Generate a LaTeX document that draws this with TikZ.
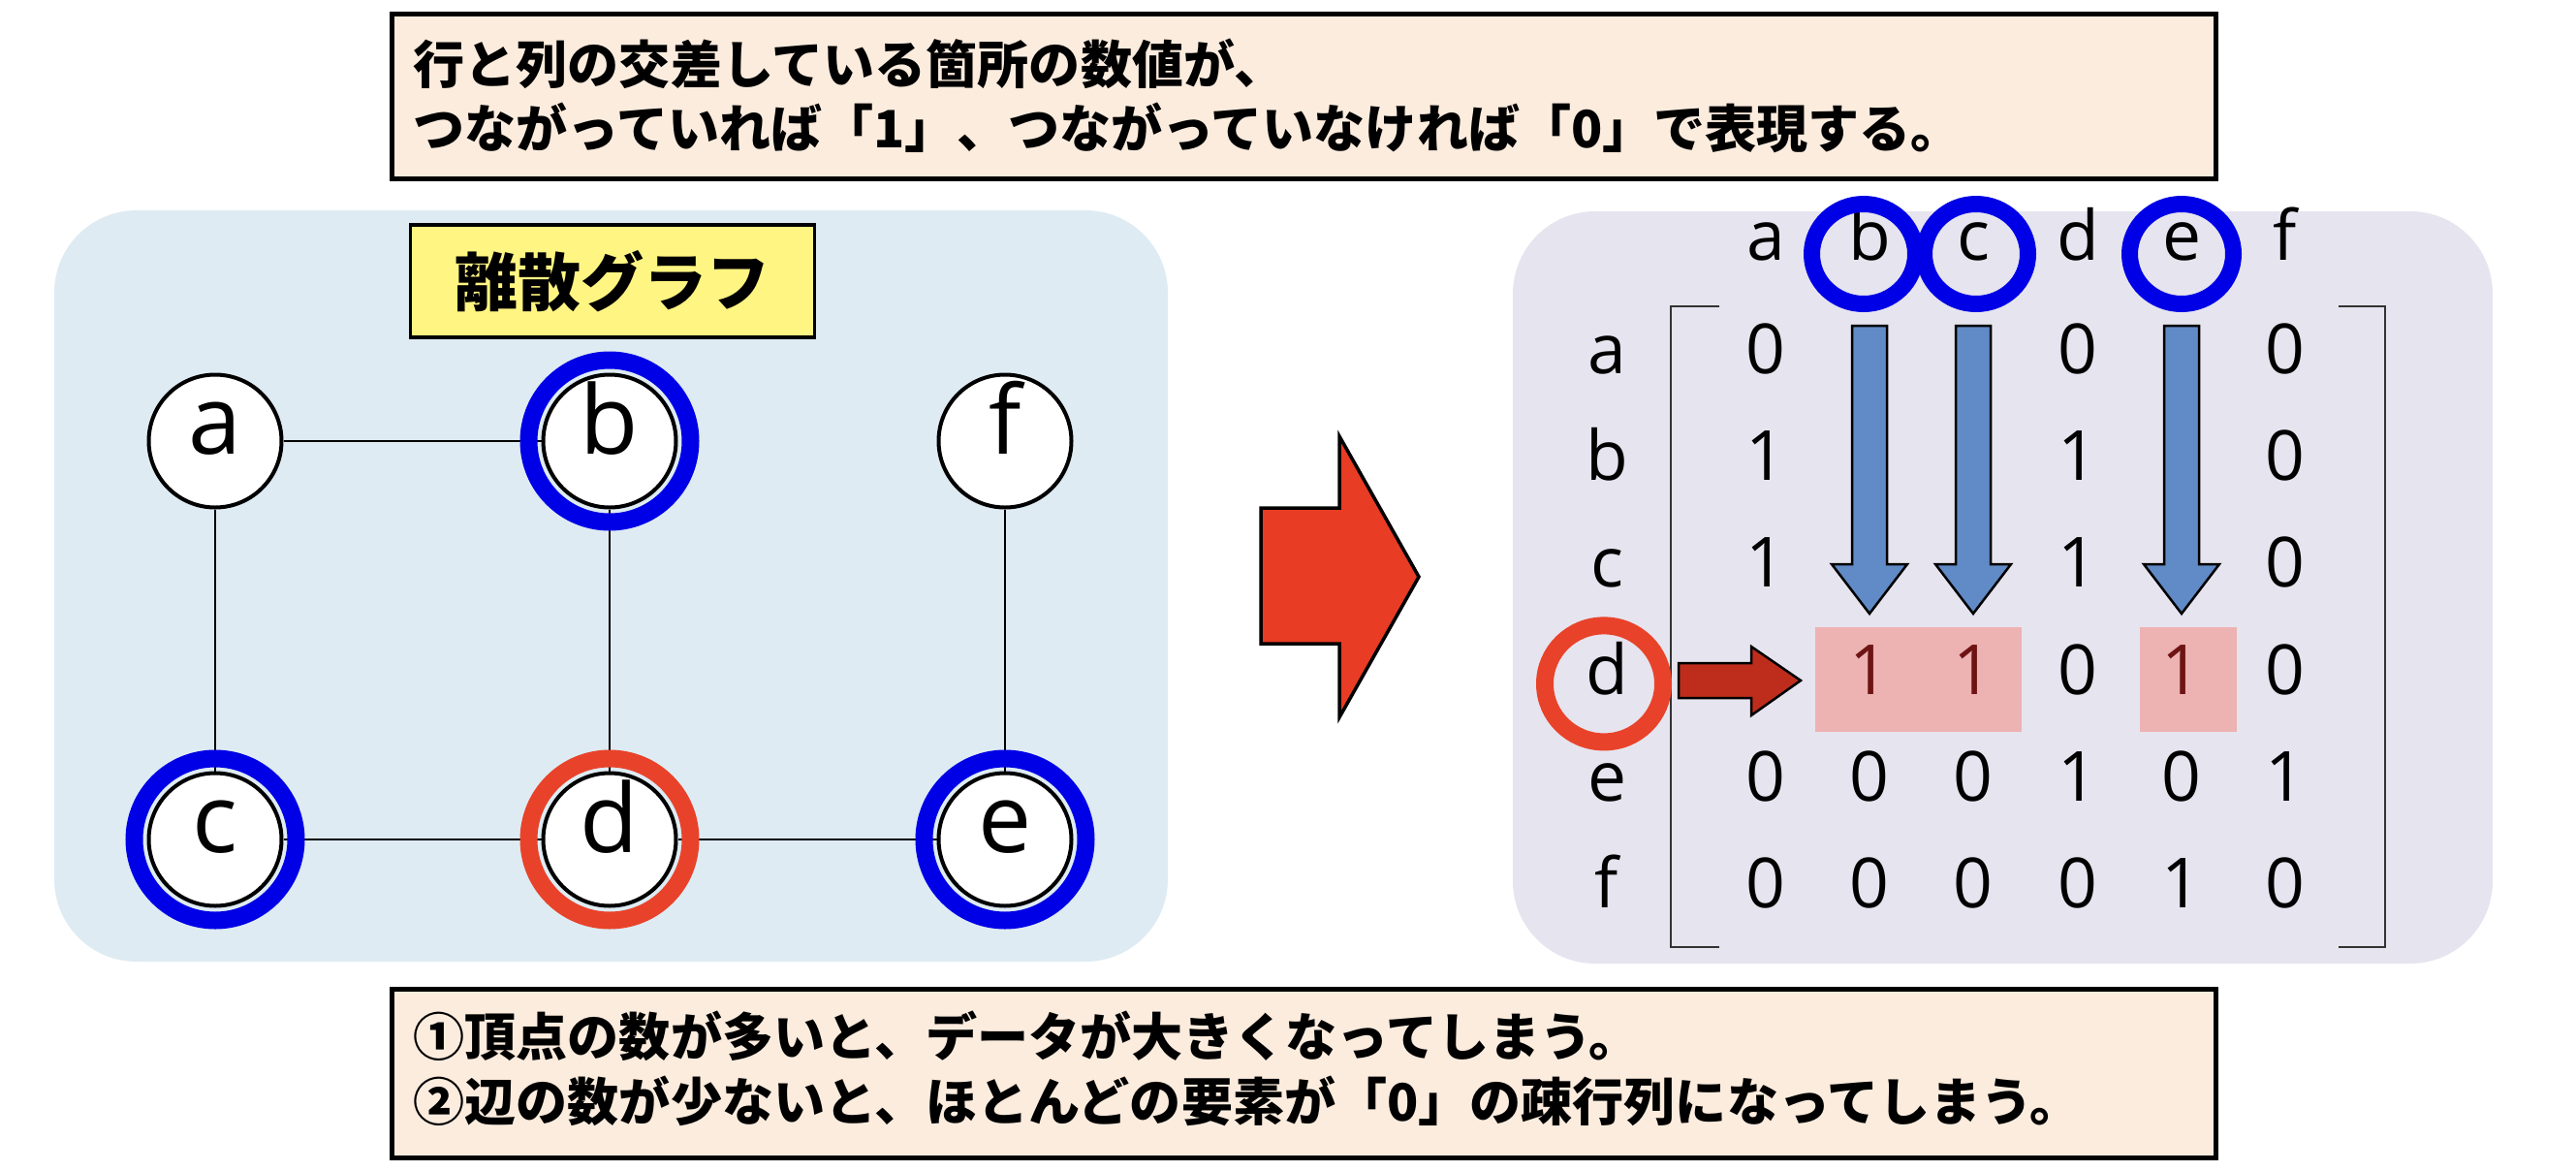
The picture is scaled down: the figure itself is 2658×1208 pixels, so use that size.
\documentclass[tikz,border=0pt]{standalone}
\usepackage{fontspec}
\setmainfont{Open Sans}
\newfontfamily\jpfont{Noto Sans CJK JP}
\usetikzlibrary{calc}

\definecolor{notefill}{RGB}{251,236,222}
\definecolor{graphbg}{RGB}{222,235,243}
\definecolor{matbg}{RGB}{230,228,238}
\definecolor{titlefill}{RGB}{255,245,130}
\definecolor{ringblue}{RGB}{0,0,230}
\definecolor{ringred}{RGB}{232,67,42}
\definecolor{arrowblue}{RGB}{97,139,198}
\definecolor{cellpink}{RGB}{237,178,178}
\definecolor{arrowred}{RGB}{190,45,28}
\definecolor{bigred}{RGB}{232,60,36}
\definecolor{onered}{RGB}{110,20,20}

\tikzset{
  notebox/.style={draw, line width=0.5mm, fill=notefill, inner sep=0pt},
  notetext/.style={inner sep=0pt, font=\jpfont\bfseries\fontsize{15.1}{18}\selectfont},
  titlebox/.style={draw, line width=0.35mm, fill=titlefill, minimum width=41.7mm, minimum height=11.6mm, font=\jpfont\bfseries\fontsize{18.5}{22}\selectfont},
  vertex/.style={circle, draw, line width=0.4mm, fill=white, minimum size=13.7mm, inner sep=0pt, text height=0.78em, text depth=0pt, font=\fontsize{28}{28}\selectfont},
  edge/.style={line width=0.27mm},
  ring/.style={line width=1.8mm},
  entry/.style={inner sep=0pt, text height=0.72em, text depth=0pt, font=\fontsize{20.3}{24}\selectfont},
  hring/.style={line width=1.7mm, ringblue},
  rring/.style={line width=1.8mm, ringred},
  downarrow/.style={draw, line width=0.25mm, fill=arrowblue, line join=miter},
  rowarrow/.style={draw, line width=0.25mm, fill=arrowred, line join=miter},
  bigarrow/.style={draw, line width=0.35mm, fill=bigred, line join=miter},
  bracket/.style={line width=0.25mm, black!80}
}

\begin{document}
\begin{tikzpicture}[x=0.1mm, y=-0.1mm]
  \useasboundingbox (0,0) rectangle (2658,1208);

  % Top note
  \node[notebox, minimum width=188.2mm, minimum height=17mm] (topnote) at (1345,99) {};
  \node[notetext, anchor=west] (topline1) at (426,66) {行と列の交差している箇所の数値が、};
  \node[notetext, anchor=west] (topline2) at (426,132) {つながっていれば「1」、つながっていなければ「0」で表現する。};

  % Left side (graph)
  \fill[graphbg, rounded corners=8.5mm] (56,217) rectangle (1205,992);
  \node[titlebox] (title) at (632,290) {離散グラフ};

  % Vertices
  \node[vertex] (a) at (222,455) {a};
  \node[vertex] (b) at (629,455) {b};
  \node[vertex] (f) at (1037,455) {f};
  \node[vertex] (c) at (222,866) {c};
  \node[vertex] (d) at (629,866) {d};
  \node[vertex] (e) at (1037,866) {e};

  % Edges
  \draw[edge] (a) -- (b);
  \draw[edge] (a) -- (c);
  \draw[edge] (b) -- (d);
  \draw[edge] (c) -- (d);
  \draw[edge] (d) -- (e);
  \draw[edge] (f) -- (e);

  % Highlight rings
  \draw[ring, ringblue] (b) circle[radius=8.35mm];
  \draw[ring, ringblue] (c) circle[radius=8.35mm];
  \draw[ring, ringblue] (e) circle[radius=8.35mm];
  \draw[ring, ringred] (d) circle[radius=8.35mm];

  % Arrow between panels
  \draw[bigarrow] (1301,524) -- (1382,524) -- (1382,450) -- (1464,595) -- (1382,740) -- (1382,664) -- (1301,664) -- cycle;

  % Right side (matrix)
  \fill[matbg, rounded corners=8.5mm] (1561,218) rectangle (2572,994);

  % Cells of row d
  \fill[cellpink] (1873,647) rectangle (2086,755);
  \fill[cellpink] (2208,647) rectangle (2308,755);

  % Brackets
  \draw[bracket] (1774,316) -- (1724,316) -- (1724,977) -- (1774,977);
  \draw[bracket] (2413,316) -- (2461,316) -- (2461,977) -- (2413,977);

  % Column heads
  \node[entry] (hA) at (1822,256) {a};
  \node[entry] (hB) at (1929,256) {b};
  \node[entry] (hC) at (2036,256) {c};
  \node[entry] (hD) at (2144,256) {d};
  \node[entry] (hE) at (2251,256) {e};
  \node[entry] (hF) at (2358,256) {f};

  % Row heads
  \node[entry] (rA) at (1658,372.5) {a};
  \node[entry] (rB) at (1658,482.8) {b};
  \node[entry] (rC) at (1658,593.1) {c};
  \node[entry] (rD) at (1658,703.4) {d};
  \node[entry] (rE) at (1658,813.7) {e};
  \node[entry] (rF) at (1658,924) {f};

  % Row a
  \node[entry] (m11) at (1822,372.5) {0};
  \node[entry] (m14) at (2144,372.5) {0};
  \node[entry] (m16) at (2358,372.5) {0};
  % Row b
  \node[entry] (m21) at (1822,482.8) {1};
  \node[entry] (m24) at (2144,482.8) {1};
  \node[entry] (m26) at (2358,482.8) {0};
  % Row c
  \node[entry] (m31) at (1822,593.1) {1};
  \node[entry] (m34) at (2144,593.1) {1};
  \node[entry] (m36) at (2358,593.1) {0};
  % Row d
  \node[entry, onered] (m42) at (1929,703.4) {1};
  \node[entry, onered] (m43) at (2036,703.4) {1};
  \node[entry] (m44) at (2144,703.4) {0};
  \node[entry, onered] (m45) at (2251,703.4) {1};
  \node[entry] (m46) at (2358,703.4) {0};
  % Row e
  \node[entry] (m51) at (1822,813.7) {0};
  \node[entry] (m52) at (1929,813.7) {0};
  \node[entry] (m53) at (2036,813.7) {0};
  \node[entry] (m54) at (2144,813.7) {1};
  \node[entry] (m55) at (2251,813.7) {0};
  \node[entry] (m56) at (2358,813.7) {1};
  % Row f
  \node[entry] (m61) at (1822,924) {0};
  \node[entry] (m62) at (1929,924) {0};
  \node[entry] (m63) at (2036,924) {0};
  \node[entry] (m64) at (2144,924) {0};
  \node[entry] (m65) at (2251,924) {1};
  \node[entry] (m66) at (2358,924) {0};

  % Circles on heads
  \draw[hring] ($(hB)+(-6,6)$) ellipse[x radius=5.35mm, y radius=5.15mm];
  \draw[hring] ($(hC)+(3,6)$) ellipse[x radius=5.35mm, y radius=5.15mm];
  \draw[hring] ($(hE)+(0,6)$) ellipse[x radius=5.35mm, y radius=5.15mm];
  \draw[rring] ($(rD)+(-3,2)$) ellipse[x radius=6.1mm, y radius=6.0mm];

  % Column arrows
  \draw[downarrow] (1911,336) -- (1947,336) -- (1947,582) -- (1968,582) -- (1929,633) -- (1890,582) -- (1911,582) -- cycle;
  \draw[downarrow] (2018,336) -- (2054,336) -- (2054,582) -- (2075,582) -- (2036,633) -- (1997,582) -- (2018,582) -- cycle;
  \draw[downarrow] (2233,336) -- (2269,336) -- (2269,582) -- (2290,582) -- (2251,633) -- (2212,582) -- (2233,582) -- cycle;

  % Row arrow
  \draw[rowarrow] (1732,684) -- (1807,684) -- (1807,667) -- (1858,702) -- (1807,738) -- (1807,720) -- (1732,720) -- cycle;

  % Bottom note
  \node[notebox, minimum width=188.2mm, minimum height=17.4mm] (botnote) at (1345,1107) {};
  \node[notetext, anchor=west] (botline1) at (426,1069) {①頂点の数が多いと、データが大きくなってしまう。};
  \node[notetext, anchor=west] (botline2) at (426,1136) {②辺の数が少ないと、ほとんどの要素が「0」の疎行列になってしまう。};

\end{tikzpicture}
\end{document}
